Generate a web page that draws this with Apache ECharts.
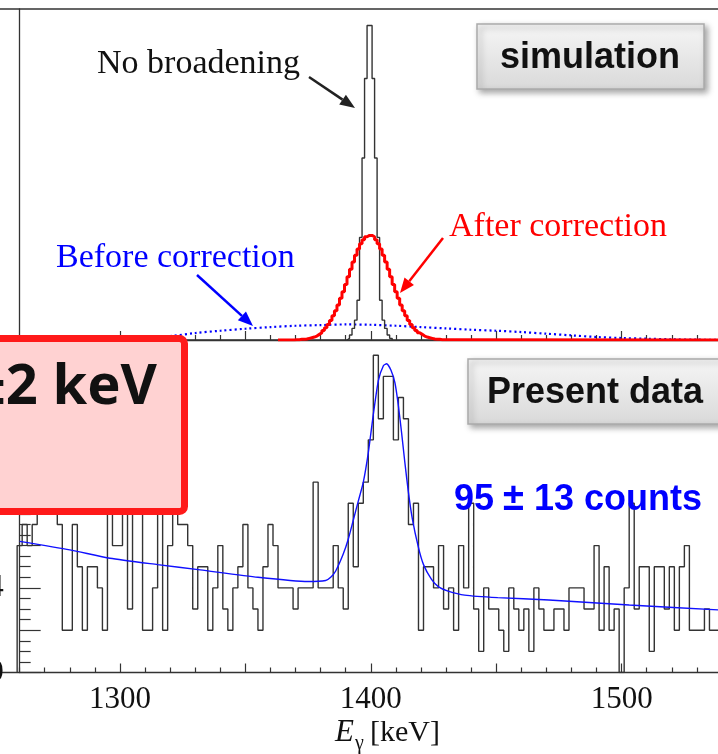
<!DOCTYPE html>
<html>
<head>
    <meta charset="UTF-8">
    <title>E gamma spectrum</title>
    <script src="https://cdn.jsdelivr.net/npm/echarts@6/dist/echarts.min.js"></script>
    <style>
        *{margin:0;padding:0;}
        html,body{width:100%;height:100%;background:#fff;}
        #main{width:718px;height:754px;}
    </style>
</head>
<body>
<div id="main"></div>
<script>
    // x range (keV) shared by both pads
    var xMin = 1250, xMax = 1540;

    // present data: 2 keV bins, first bin starts at 1259 keV
    var dataBinStart = 1259, dataBinWidth = 2;
    var dataCounts = [
        6, 7, 6, 7, 9, 8, 10, 9, 7, 2,
        2, 7, 5, 2, 5, 5, 4, 2, 9, 6,
        6, 8, 3, 9, 8, 2, 2, 4, 8, 2,
        6, 8, 7, 7, 6, 3, 5, 5, 2, 4,
        6, 3, 2, 4, 5, 7, 4, 3, 2, 5,
        7, 6, 4, 4, 4, 3, 4, 4, 4, 9,
        4, 4, 4, 6, 4, 3, 8, 5, 8, 9,
        11, 15, 12, 14, 14, 11, 13, 12, 7, 8,
        2, 5, 5, 4, 6, 3, 4, 2, 6, 4,
        8, 3, 1, 4, 3, 3, 2, 1, 4, 3,
        2, 3, 1, 4, 3, 2, 2, 3, 3, 2,
        4, 4, 4, 3, 3, 6, 2, 5, 2, 3,
        0, 4, 8, 3, 5, 5, 1, 5, 5, 3,
        5, 2, 5, 6, 2, 2, 2, 3, 2, 2
    ];

    // fit curve
    var fitKeV = [1260, 1280, 1296, 1315, 1332, 1355, 1375, 1382, 1384, 1386, 1389, 1391, 1393, 1395, 1397,
        1399, 1401, 1403, 1405, 1406.3, 1408, 1409.6, 1411, 1412.3, 1413.5, 1414.9, 1416.5, 1418.9, 1421,
        1424.2, 1427, 1430.8, 1437.4, 1450.6, 1471, 1503, 1540];
    var fitCounts = [6.2, 5.8, 5.4, 5.1, 4.85, 4.5, 4.3, 4.35, 4.5, 4.8, 5.6, 6.3, 7.2, 8.1, 9.0,
        10.4, 12.2, 13.8, 14.5, 14.6, 14.3, 13.7, 12.6, 11.3, 10.0, 8.6, 7.3, 5.95, 5.1,
        4.4, 4.05, 3.85, 3.66, 3.54, 3.43, 3.19, 2.95];

    // simulation: no broadening, 1 keV bins
    var noBroadStart = 1390.5;
    var noBroadVals = [0.5, 1.5, 3.5, 6, 12, 31, 55, 79, 95, 95, 79, 55, 31, 12, 6, 3.5, 1.5, 0.5];

    // simulation: after correction, 1 keV bins
    var afterStart = 1369.5;
    var afterVals = [
        0.1, 0.1, 0.2, 0.2, 0.3, 0.5, 0.7, 0.9, 1.2, 1.7,
        2.2, 2.9, 3.7, 4.7, 5.9, 7.3, 8.8, 10.6, 12.6, 14.6,
        16.8, 19.1, 21.4, 23.6, 25.6, 27.5, 29.1, 30.3, 31.2, 31.6,
        31.6, 31.2, 30.3, 29.1, 27.5, 25.6, 23.6, 21.4, 19.1, 16.8,
        14.6, 12.6, 10.6, 8.8, 7.3, 5.9, 4.7, 3.7, 2.9, 2.2,
        1.7, 1.2, 0.9, 0.7, 0.5, 0.3, 0.2, 0.2, 0.1, 0.1
    ];
    var afterBaseRange = [1363, 1540];

    // simulation: before correction
    var beforeKeV = [1300, 1320, 1330, 1340, 1350, 1360, 1370, 1380, 1390, 1400, 1410, 1420,
        1430, 1440, 1450, 1460, 1470, 1480, 1490, 1500, 1510, 1520, 1530, 1540];
    var beforeVals = [0.3, 1.2, 2.1, 2.8, 3.4, 3.9, 4.3, 4.5, 4.7, 4.6, 4.3, 3.9,
        3.5, 3.1, 2.8, 2.4, 1.9, 1.4, 0.9, 0.6, 0.4, 0.2, 0.1, 0];

    // turn bin contents into an outline (horizontal tops, vertical edges)
    function histOutline(start, width, vals) {
        var pts = [[start, 0]];
        for (var i = 0; i < vals.length; i++) {
            pts.push([start + i * width, vals[i]]);
            pts.push([start + (i + 1) * width, vals[i]]);
        }
        pts.push([start + vals.length * width, 0]);
        return pts;
    }
    function zip(xs, ys) {
        return xs.map(function (x, i) { return [x, ys[i]]; });
    }

    var afterLine = [[afterBaseRange[0], 0]]
        .concat(histOutline(afterStart, 1, afterVals))
        .concat([[afterBaseRange[1], 0]]);

    var serif = '"Liberation Serif", "DejaVu Serif", serif';
    var sans = '"Liberation Sans", Arial, sans-serif';
    var axisCol = '#333';

    function xAxisCfg(gridIndex, showLabel) {
        return {
            type: 'value', gridIndex: gridIndex, min: xMin, max: xMax, interval: 50,
            axisLine: {show: true, lineStyle: {color: axisCol, width: 1.3}},
            axisTick: {show: true, inside: true, length: 9, lineStyle: {color: axisCol, width: 1.2}},
            minorTick: {show: true, splitNumber: 5, length: 5, lineStyle: {color: axisCol, width: 1.2}},
            splitLine: {show: false},
            axisLabel: {
                show: showLabel, margin: 12, fontSize: 31, fontFamily: serif, color: '#111',
                formatter: function (v) { return v % 100 === 0 ? String(v) : ''; }
            }
        };
    }

    // arrow shaft + head from (x1,y1) to (x2,y2)
    function arrow(x1, y1, x2, y2, color) {
        var dx = x2 - x1, dy = y2 - y1, len = Math.sqrt(dx * dx + dy * dy);
        var ux = dx / len, uy = dy / len, hl = 15, hw = 6;
        var bx = x2 - ux * hl, by = y2 - uy * hl;
        return [
            {type: 'line', shape: {x1: x1, y1: y1, x2: bx, y2: by}, style: {stroke: color, lineWidth: 2.5}, z: 100},
            {type: 'polygon', shape: {points: [[x2, y2], [bx - uy * hw, by + ux * hw], [bx + uy * hw, by - ux * hw]]},
                style: {fill: color}, z: 100}
        ];
    }

    var boxFill = {
        type: 'linear', x: 0, y: 0, x2: 0, y2: 1,
        colorStops: [{offset: 0, color: '#f6f6f6'}, {offset: 1, color: '#d9d9d9'}]
    };

    var graphics = [
        {type: 'rect', shape: {x: 477, y: 24, width: 227, height: 65},
            style: {fill: boxFill, stroke: '#aaa', lineWidth: 1.5, shadowBlur: 6, shadowOffsetX: 3, shadowOffsetY: 3,
                shadowColor: 'rgba(0,0,0,0.35)'}, z: 90},
        {type: 'text', x: 590, y: 58, style: {text: 'simulation', font: 'bold 36px ' + sans, fill: '#111',
            align: 'center', verticalAlign: 'middle'}, z: 100},
        {type: 'rect', shape: {x: 468, y: 359, width: 280, height: 65},
            style: {fill: boxFill, stroke: '#aaa', lineWidth: 1.5, shadowBlur: 6, shadowOffsetX: 3, shadowOffsetY: 3,
                shadowColor: 'rgba(0,0,0,0.35)'}, z: 90},
        {type: 'text', x: 487, y: 393, style: {text: 'Present data', font: 'bold 36px ' + sans, fill: '#111',
            align: 'left', verticalAlign: 'middle'}, z: 100},
        {type: 'text', x: 454, y: 500, style: {text: '95{pm|±}13 counts', font: 'bold 36px ' + sans, fill: '#0000ff',
            align: 'left', verticalAlign: 'middle',
            rich: {pm: {font: 'bold 38px ' + sans, fill: '#0000ff', padding: [0, 10, 0, 9]}}}, z: 100},
        {type: 'text', x: 97, y: 64, style: {text: 'No broadening', font: '34px ' + serif, fill: '#111',
            align: 'left', verticalAlign: 'middle'}, z: 100},
        {type: 'text', x: 56, y: 258, style: {text: 'Before correction', font: '34px ' + serif, fill: '#0000ff',
            align: 'left', verticalAlign: 'middle'}, z: 100},
        {type: 'text', x: 449, y: 227, style: {text: 'After correction', font: '34px ' + serif, fill: '#ff0000',
            align: 'left', verticalAlign: 'middle'}, z: 100},
        {type: 'rect', shape: {x: -20, y: 338.5, width: 204.5, height: 173, r: 5},
            style: {fill: '#ffd2d2', stroke: '#ff1a1a', lineWidth: 7}, z: 95},
        {type: 'text', x: 157, y: 388, style: {text: '±2 keV', font: 'bold 56px "Noto Sans", sans-serif', fill: '#111',
            align: 'right', verticalAlign: 'middle'}, z: 100},
        {type: 'text', x: 335, y: 733, style: {text: 'E', font: 'italic 31px ' + serif, fill: '#111',
            align: 'left', verticalAlign: 'middle'}, z: 100},
        {type: 'text', x: 355, y: 744, style: {text: 'γ', font: '20px ' + serif, fill: '#111',
            align: 'left', verticalAlign: 'middle'}, z: 100},
        {type: 'text', x: 370, y: 733, style: {text: '[keV]', font: '30px ' + serif, fill: '#111',
            align: 'left', verticalAlign: 'middle'}, z: 100}
    ]
        .concat(arrow(309, 77, 355, 108, '#222'))
        .concat(arrow(197, 275, 253, 326, '#0000ff'))
        .concat(arrow(443, 238, 400, 293, '#ff0000'));

    var chart = echarts.init(document.getElementById('main'));
    chart.setOption({
        animation: false,
        backgroundColor: '#fff',
        grid: [
            {left: -5.43, right: -4, top: 9, height: 331, show: true, borderColor: axisCol, borderWidth: 1.3,
                outerBoundsMode: 'none', containLabel: false},
            {left: -5.43, right: -4, top: 340, height: 332.5, outerBoundsMode: 'none', containLabel: false}
        ],
        xAxis: [xAxisCfg(0, false), xAxisCfg(1, true)],
        yAxis: [
            {type: 'value', gridIndex: 0, min: 0, max: 100, offset: -25.1,
                axisLine: {show: true, lineStyle: {color: axisCol, width: 1.3}},
                axisTick: {show: false}, axisLabel: {show: false}, splitLine: {show: false}},
            {type: 'value', gridIndex: 1, min: 0, max: 15.72, interval: 2, offset: -25.1,
                axisLine: {show: true, lineStyle: {color: axisCol, width: 1.3}},
                axisTick: {show: true, inside: true, length: 21, lineStyle: {color: axisCol, width: 1.2}},
                minorTick: {show: true, splitNumber: 4, length: 11, lineStyle: {color: axisCol, width: 1.2}},
                splitLine: {show: false},
                axisLabel: {margin: 16, fontSize: 31, fontFamily: serif, color: '#111', showMaxLabel: false,
                    formatter: function (v) { return v % 4 === 0 ? String(v) : ''; }}}
        ],
        series: [
            {type: 'line', xAxisIndex: 0, yAxisIndex: 0, data: zip(beforeKeV, beforeVals), smooth: 0.3,
                showSymbol: false, lineStyle: {color: '#0000ff', width: 2.2, type: [2, 3]}},
            {type: 'line', xAxisIndex: 0, yAxisIndex: 0, data: histOutline(noBroadStart, 1, noBroadVals),
                showSymbol: false, lineStyle: {color: '#333', width: 1.4}},
            {type: 'line', xAxisIndex: 0, yAxisIndex: 0, data: afterLine,
                showSymbol: false, lineStyle: {color: '#ff0000', width: 3}},
            {type: 'line', xAxisIndex: 1, yAxisIndex: 1, data: histOutline(dataBinStart, dataBinWidth, dataCounts),
                showSymbol: false, lineStyle: {color: '#333', width: 1.4}},
            {type: 'line', xAxisIndex: 1, yAxisIndex: 1, data: zip(fitKeV, fitCounts), smooth: 0.2,
                showSymbol: false, lineStyle: {color: '#1010ff', width: 1.4}}
        ],
        graphic: graphics
    });
</script>
</body>
</html>
